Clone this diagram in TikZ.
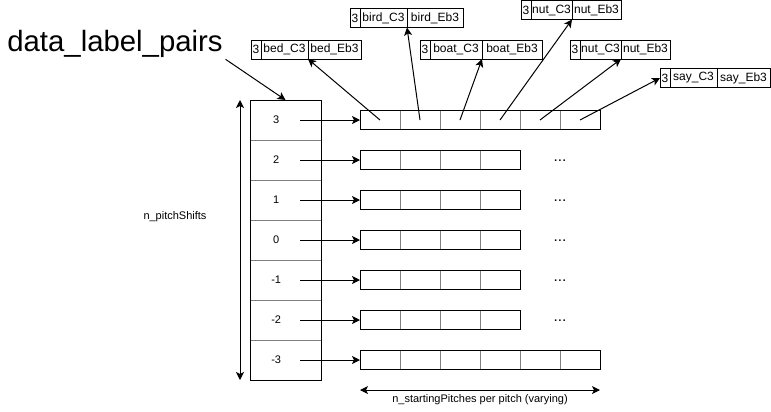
\documentclass[tikz,border=0pt]{standalone}
\usepackage{fontspec}
\setmainfont{Liberation Sans}
\usetikzlibrary{arrows.meta,positioning}

\begin{document}
\begin{tikzpicture}[
    x=0.75pt, y=-0.75pt, line width=0.75pt,
    every node/.style={font=\fontsize{8.25}{10}\selectfont},
    pitchrow/.style={draw=gray, minimum width=53.25pt, minimum height=30pt, inner sep=0pt, outer sep=0pt},
    cell/.style={draw=gray, minimum width=30pt, minimum height=14.25pt, inner sep=0pt, outer sep=0pt},
    pair/.style={draw, minimum height=14.25pt, inner sep=0pt, outer sep=0pt, font=\fontsize{9}{11}\selectfont},
    arrow/.style={-{Stealth[length=6pt, width=6pt, inset=1.5pt]}},
    dblarrow/.style={{Stealth[length=6pt, width=6pt, inset=1.5pt]}-{Stealth[length=6pt, width=6pt, inset=1.5pt]}}
  ]
    \useasboundingbox (0,0) rectangle (771,411);

    % pitch shift column and the arrays of each row
    \foreach \lab/\nm/\k/\n in {3/3/0/6, 2/2/1/4, 1/1/2/4, 0/0/3/4, -1/m1/4/4, -2/m2/5/4, -3/m3/6/6} {
      \node[pitchrow, label={[xshift=-7pt]center:\lab}] (p\nm) at (285.5,120+40*\k) {};
      \foreach \i in {1,...,\n}
        \node[cell] (c\nm-\i) at (340+40*\i,120+40*\k) {};
      \draw (c\nm-1.north west) rectangle (c\nm-\n.south east);
      \draw[arrow] ([xshift=11pt]p\nm.center) -- (c\nm-1.west);
    }
    \draw (p3.north west) rectangle (pm3.south east);

    \foreach \nm/\k in {2/1, 1/2, 0/3, m1/4, m2/5}
      \node[font=\fontsize{11.5}{13}\selectfont] (dots\nm) at (560,120.5+40*\k) {...};

    % label pairs
    \node[pair, minimum width=7.5pt, anchor=west] (bed0) at (251,49.5) {3};
    \node[pair, minimum width=35.25pt, right=0pt of bed0] (bed1) {bed\_C3};
    \node[pair, minimum width=39.75pt, right=0pt of bed1] (bed2) {bed\_Eb3};

    \node[pair, minimum width=7.5pt, anchor=west] (bird0) at (350,18) {3};
    \node[pair, minimum width=35.25pt, right=0pt of bird0] (bird1) {bird\_C3};
    \node[pair, minimum width=42pt, right=0pt of bird1] (bird2) {bird\_Eb3};

    \node[pair, minimum width=7.5pt, anchor=west] (boat0) at (420,49.5) {3};
    \node[pair, minimum width=39pt, right=0pt of boat0] (boat1) {boat\_C3};
    \node[pair, minimum width=45pt, right=0pt of boat1] (boat2) {boat\_Eb3};

    \node[pair, minimum width=7.5pt, anchor=west] (nutA0) at (521,10) {3};
    \node[pair, minimum width=30.75pt, right=0pt of nutA0] (nutA1) {nut\_C3};
    \node[pair, minimum width=36.75pt, right=0pt of nutA1] (nutA2) {nut\_Eb3};

    \node[pair, minimum width=7.5pt, anchor=west] (nutB0) at (570,49.5) {3};
    \node[pair, minimum width=30.75pt, right=0pt of nutB0] (nutB1) {nut\_C3};
    \node[pair, minimum width=36.75pt, right=0pt of nutB1] (nutB2) {nut\_Eb3};

    \node[pair, minimum width=7.5pt, anchor=west] (say0) at (660,78) {3};
    \node[pair, minimum width=35.25pt, right=0pt of say0] (say1) {say\_C3};
    \node[pair, minimum width=39.75pt, right=0pt of say1] (say2) {say\_Eb3};

    \draw[arrow] (c3-1.center) -- (bed1.south east);
    \draw[arrow] (c3-2.center) -- (bird1.south east);
    \draw[arrow] (c3-3.center) -- (boat1.south east);
    \draw[arrow] (c3-4.center) -- (nutA1.south east);
    \draw[arrow] (c3-5.center) -- (nutB1.south east);
    \draw[arrow] (c3-6.center) -- (say0.west);

    \node[font=\fontsize{22}{26}\selectfont] (dlp) at (115,43.7) {data\_label\_pairs};
    \draw[arrow] ([shift={(-2,-3)}]dlp.south east) -- (p3.north);

    % axes
    \draw[dblarrow] ([xshift=-7.5pt]pm3.south west) -- ([xshift=-7.5pt]p3.north west);
    \node (nps) at (175,217) {n\_pitchShifts};
    \draw[dblarrow] ([yshift=-15.4pt]cm3-1.south west) -- ([yshift=-15.4pt]cm3-6.south east)
      node[midway, below] (nsp) {n\_startingPitches per pitch (varying)};
  \end{tikzpicture}
\end{document}
